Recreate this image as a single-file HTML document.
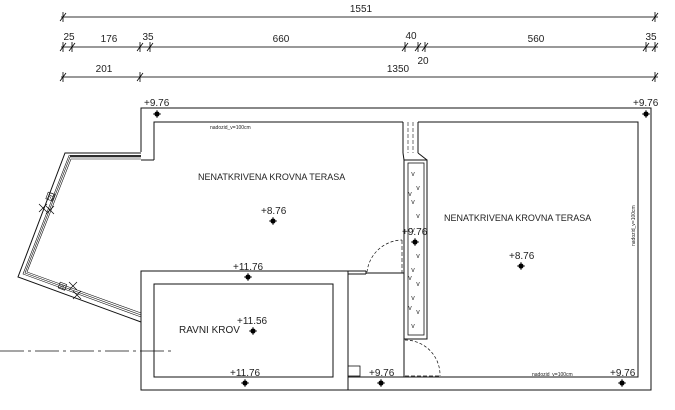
<!DOCTYPE html>
<html><head><meta charset="utf-8"><style>
html,body{margin:0;padding:0;background:#fff;}
svg{display:block;font-family:"Liberation Sans",sans-serif;}
</style></head><body>
<svg width="675" height="410" viewBox="0 0 675 410" xmlns="http://www.w3.org/2000/svg">
<defs>
<g id="mk"><circle r="2.6" fill="#000"/><line x1="-4" y1="0" x2="4" y2="0" stroke="#000" stroke-width="0.8"/><line x1="0" y1="-4" x2="0" y2="4" stroke="#000" stroke-width="0.8"/></g>
<path id="tk" d="M-3,4 L3,-4 M0,-5 L0,5" stroke="#000" stroke-width="0.8" fill="none"/>
<path id="xk" d="M-4,-4 L4,4 M-4,4 L4,-4" stroke="#000" stroke-width="0.7" fill="none"/>
</defs>
<g stroke="#333" stroke-width="1" fill="none">
<line x1="61" y1="17" x2="658" y2="17"/>
<line x1="61" y1="47" x2="658" y2="47"/>
<line x1="61" y1="77" x2="658" y2="77"/>
</g>
<g>
<use href="#tk" x="63" y="17"/><use href="#tk" x="655" y="17"/>
<use href="#tk" x="63" y="47"/><use href="#tk" x="72" y="47"/><use href="#tk" x="140" y="47"/><use href="#tk" x="150" y="47"/><use href="#tk" x="405" y="47"/><use href="#tk" x="418" y="47"/><use href="#tk" x="425" y="47"/><use href="#tk" x="646" y="47"/><use href="#tk" x="655" y="47"/>
<use href="#tk" x="63" y="77"/><use href="#tk" x="140" y="77"/><use href="#tk" x="655" y="77"/>
</g>
<g font-size="10" fill="#222" text-anchor="middle">
<text x="361" y="12">1551</text>
<text x="69" y="40">25</text><text x="109" y="42">176</text><text x="148" y="40">35</text><text x="281" y="42">660</text><text x="411" y="39">40</text><text x="536" y="42">560</text><text x="651" y="40">35</text>
<text x="423" y="64">20</text>
<text x="104" y="72">201</text><text x="398" y="72">1350</text>
</g>
<g stroke="#111" fill="none" stroke-width="1">
<polyline points="141,152 141,108 651,108 651,390 141,390 141,320"/>
<polyline points="154,160 154,122 403,122"/>
<polyline points="418,122 638,122 638,377 348,377"/>
<polyline points="141,153 65,153 18,277 141,322"/>
<polyline points="141,155.5 69,155.5 23,274 141,317" stroke-width="0.6"/>
<polyline points="141,157 70,157 25,273 141,315" stroke-width="0.6"/>
<polyline points="141,159 71,159 27,272 141,313" stroke-width="0.6"/>
<line x1="141" y1="160" x2="154" y2="160"/>
<line x1="70" y1="156" x2="141" y2="156" stroke-width="1.6"/>
<rect x="141" y="271" width="207" height="119"/>
<rect x="154" y="284" width="179" height="93"/>
<line x1="348" y1="271" x2="366" y2="271"/><line x1="348" y1="274" x2="366" y2="274"/>
<line x1="366" y1="271" x2="366" y2="274"/>
<line x1="348" y1="365" x2="348" y2="390"/>
<rect x="348" y="366" width="12" height="10" stroke-width="0.8"/>
<rect x="404" y="160" width="23" height="179"/>
<rect x="408" y="163" width="16" height="172" stroke-width="0.8"/>
<line x1="403" y1="122" x2="403" y2="153"/><line x1="418" y1="122" x2="418" y2="153"/>
<line x1="403" y1="153" x2="404" y2="160"/><line x1="418" y1="153" x2="427" y2="160"/>
<line x1="408" y1="122" x2="408" y2="153" stroke-dasharray="4,2" stroke-width="0.6"/>
<line x1="413" y1="122" x2="413" y2="153" stroke-dasharray="4,2" stroke-width="0.6"/>
<line x1="404" y1="339" x2="404" y2="377"/>
<line x1="402" y1="240" x2="402" y2="273" stroke-dasharray="4,2" stroke-width="0.7"/>
<line x1="366" y1="273" x2="404" y2="273"/>
<path d="M367,272 A36,36 0 0 1 402,240" stroke-dasharray="3,2" stroke-width="0.7"/>
<path d="M405,340 A35,35 0 0 1 440,376" stroke-dasharray="3,2" stroke-width="0.7"/>
<line x1="405" y1="376" x2="440" y2="376" stroke-dasharray="4,2" stroke-width="0.7"/>
<line x1="638" y1="145" x2="638" y2="377" stroke-dasharray="1.5,1" stroke-width="0.8"/>
<line x1="0" y1="351" x2="172" y2="351" stroke-dasharray="24,4,3,4" stroke-width="0.8"/>
<rect x="47" y="193" width="7" height="7" stroke-width="0.6" transform="rotate(20 50 196)"/>
<rect x="59" y="283" width="7" height="6" stroke-width="0.6" transform="rotate(20 62 286)"/>
</g>
<g><use href="#xk" x="43" y="208"/><use href="#xk" x="50" y="210"/><use href="#xk" x="73" y="286"/><use href="#xk" x="77" y="295"/></g>
<g font-size="7" fill="#333" text-anchor="middle">
<text x="413" y="176">v</text><text x="418" y="190">v</text><text x="413" y="204">v</text><text x="418" y="218">v</text><text x="413" y="232">v</text><text x="418" y="258">v</text><text x="413" y="272">v</text><text x="418" y="286">v</text><text x="413" y="300">v</text><text x="418" y="314">v</text><text x="413" y="328">v</text>
<text x="410" y="196">v</text><text x="410" y="280">v</text><text x="410" y="310">v</text>
</g>
<g>
<use href="#mk" x="157" y="114"/><use href="#mk" x="646" y="114"/>
<use href="#mk" x="273" y="221"/><use href="#mk" x="248" y="277"/><use href="#mk" x="253" y="331"/><use href="#mk" x="245" y="383"/>
<use href="#mk" x="381" y="383"/><use href="#mk" x="622" y="383"/><use href="#mk" x="415" y="242"/><use href="#mk" x="521" y="266"/>
</g>
<g font-size="10" fill="#222">
<text x="144" y="106">+9.76</text><text x="633" y="106">+9.76</text>
<text x="261" y="214">+8.76</text><text x="233" y="270">+11.76</text><text x="237" y="324">+11.56</text><text x="230" y="376">+11.76</text>
<text x="369" y="376">+9.76</text><text x="610" y="376">+9.76</text><text x="402" y="235">+9.76</text><text x="509" y="259">+8.76</text>
<text x="198" y="180" font-size="9">NENATKRIVENA KROVNA TERASA</text>
<text x="444" y="221" font-size="9">NENATKRIVENA KROVNA TERASA</text>
<text x="179" y="333" font-size="10">RAVNI KROV</text>
<text x="210" y="129" font-size="5">nadozid_v=100cm</text>
<text x="532" y="376" font-size="5">nadozid_v=100cm</text>
<text x="0" y="0" font-size="5" transform="translate(635,246) rotate(-90)">nadozid_v=100cm</text>
<text x="0" y="0" font-size="7" transform="translate(52,201) rotate(-69)">20</text>
<text x="0" y="0" font-size="7" transform="translate(58,288) rotate(20)">20</text>
</g>
</svg>
</body></html>
